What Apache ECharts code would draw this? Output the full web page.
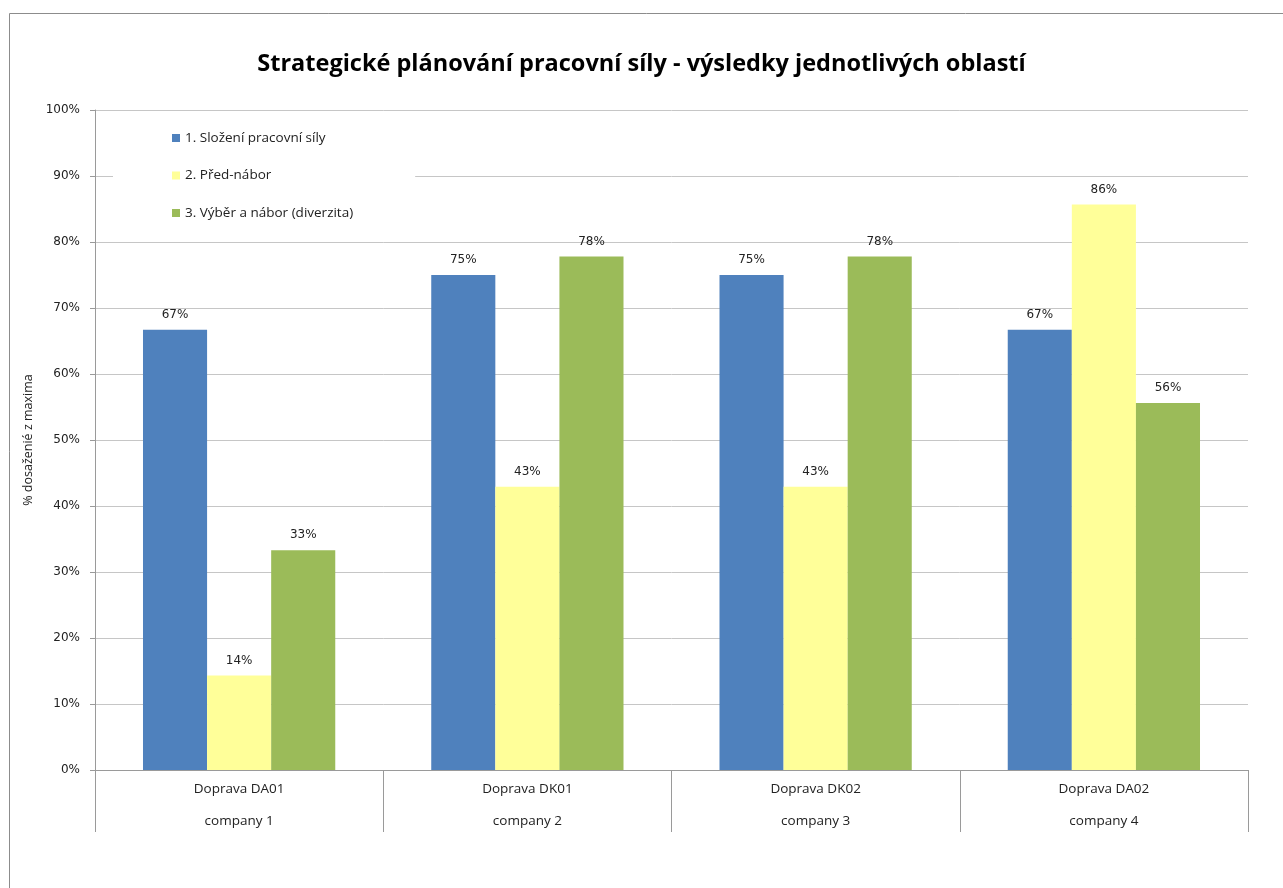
<!DOCTYPE html>
<html>
<head>
<meta charset="utf-8">
<title>Strategické plánování pracovní síly</title>
<script src="https://cdn.jsdelivr.net/npm/echarts@6/dist/echarts.min.js"></script>
<style>
  html, body { margin: 0; padding: 0; background: #fff; }
  #chart { width: 1283px; height: 888px; }
</style>
</head>
<body>
<div id="chart"></div>
<script>
// Units (first label row) and companies (second label row)
const units = ['Doprava DA01', 'Doprava DK01', 'Doprava DK02', 'Doprava DA02'];
const companies = ['company 1', 'company 2', 'company 3', 'company 4'];

// Share of the maximum score reached, in percent
const seriesNames = ['1. Složení pracovní síly', '2. Před-nábor', '3. Výběr a nábor (diverzita)'];
const slozeni = [66.7, 75.0, 75.0, 66.7];
const predNabor = [14.3, 42.9, 42.9, 85.7];
const vyber = [33.3, 77.8, 77.8, 55.6];

const yTicks = [0, 10, 20, 30, 40, 50, 60, 70, 80, 90, 100];

const colors = ['#4F81BD', '#FFFF99', '#9BBB59'];
const gridColor = '#c6c6c6';
const axisColor = '#9a9a9a';
const labelFont = 'DejaVu Sans';
const textFont = 'Open Sans';

function barSeries(name, data, color) {
  return {
    name: name,
    type: 'bar',
    data: data,
    barGap: '0%',
    barCategoryGap: '33.3%',
    itemStyle: { color: color },
    label: {
      show: true,
      position: 'top',
      distance: 9,
      fontFamily: labelFont,
      fontSize: 12,
      color: '#222',
      formatter: p => Math.round(p.value) + '%'
    }
  };
}

const chart = echarts.init(document.getElementById('chart'), null, { renderer: 'canvas' });
chart.setOption({
  backgroundColor: '#fff',
  animation: false,
  title: {
    text: 'Strategické plánování pracovní síly - výsledky jednotlivých oblastí',
    left: 'center',
    top: 47,
    textStyle: { fontFamily: textFont, fontWeight: 'bold', fontSize: 23.5, color: '#000' }
  },
  graphic: [{
    type: 'rect',
    shape: { x: 9.5, y: 13.5, width: 1300, height: 900 },
    style: { fill: 'none', stroke: '#8c8c8c', lineWidth: 1 },
    silent: true,
    z: -10
  }],
  legend: {
    orient: 'vertical',
    left: 113,
    top: 118,
    backgroundColor: '#fff',
    padding: [13, 62, 12, 59],
    itemGap: 23.5,
    itemWidth: 8,
    itemHeight: 8,
    icon: 'rect',
    textStyle: { fontFamily: textFont, fontSize: 13.5, color: '#222' },
    data: seriesNames
  },
  grid: { left: 95, right: 35, top: 110, bottom: 118, containLabel: false },
  xAxis: [{
    type: 'category',
    data: units,
    axisLine: { show: true, lineStyle: { color: axisColor } },
    axisTick: { show: true, length: 62, lineStyle: { color: axisColor } },
    axisLabel: { margin: 12, fontFamily: textFont, fontSize: 13.5, color: '#222' }
  }, {
    type: 'category',
    data: companies,
    position: 'bottom',
    axisLine: { show: false },
    axisTick: { show: false },
    axisLabel: { margin: 44, fontFamily: textFont, fontSize: 13.5, color: '#222' }
  }],
  yAxis: {
    type: 'value',
    min: yTicks[0],
    max: yTicks[yTicks.length - 1],
    interval: 10,
    name: '% dosaženié z maxima',
    nameLocation: 'middle',
    nameRotate: 90,
    nameGap: 55,
    nameTextStyle: { fontFamily: textFont, fontSize: 12.5, color: '#222' },
    axisLine: { show: true, lineStyle: { color: axisColor } },
    axisTick: { show: true, length: 5, lineStyle: { color: axisColor } },
    axisLabel: { margin: 15, fontFamily: labelFont, fontSize: 12, color: '#222', formatter: '{value}%' },
    splitLine: { show: true, lineStyle: { color: gridColor } }
  },
  series: [
    barSeries(seriesNames[0], slozeni, colors[0]),
    barSeries(seriesNames[1], predNabor, colors[1]),
    barSeries(seriesNames[2], vyber, colors[2])
  ]
});
</script>
</body>
</html>
